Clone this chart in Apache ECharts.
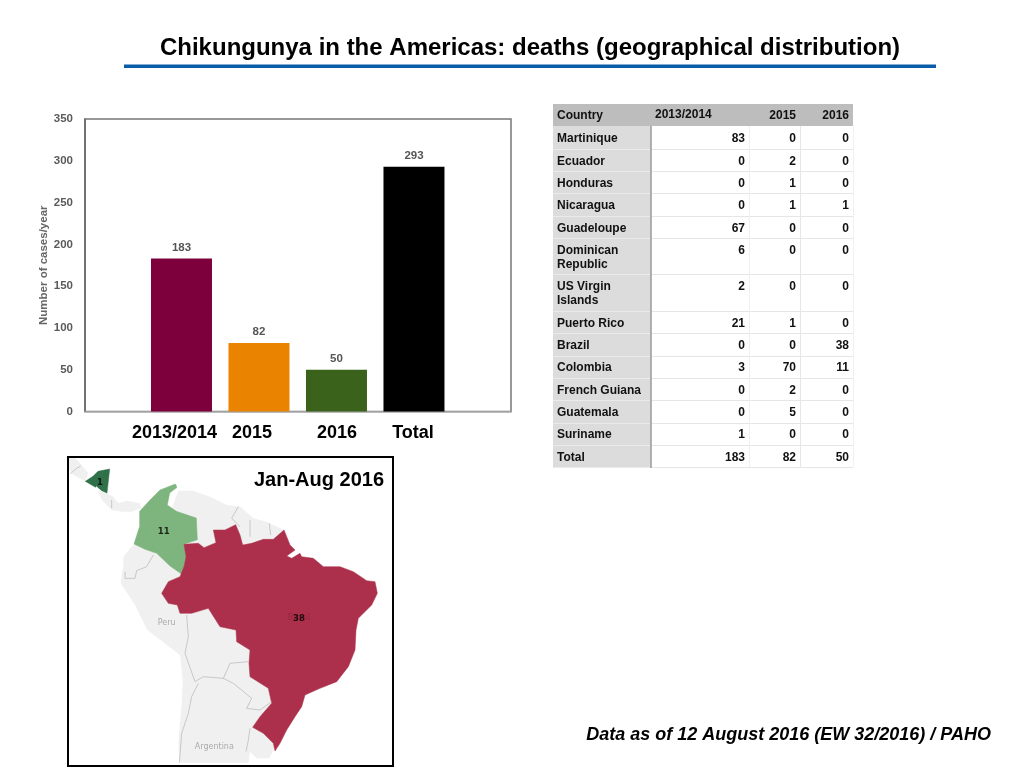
<!DOCTYPE html>
<html>
<head>
<meta charset="utf-8">
<style>html,body{margin:0;padding:0;background:#fff}#c{width:1024px;height:768px}</style>
<script src="https://cdn.jsdelivr.net/npm/echarts@6/dist/echarts.min.js"></script>
</head>
<body>
<div id="c"></div>
<script>
// ---------- chart data ----------
var barCategories = ['2013/2014', '2015', '2016', 'Total'];
var barValues = [183, 82, 50, 293];
var barColors = ['#7d003c', '#e98300', '#3b621b', '#000000'];

var tableHeader = ['Country', '2013/2014', '2015', '2016'];
var tableCountries = ['Martinique', 'Ecuador', 'Honduras', 'Nicaragua', 'Guadeloupe', 'Dominican\nRepublic', 'US Virgin\nIslands', 'Puerto Rico', 'Brazil', 'Colombia', 'French Guiana', 'Guatemala', 'Suriname', 'Total'];
var table2013 = [83, 0, 0, 0, 67, 6, 2, 21, 0, 3, 0, 0, 1, 183];
var table2015 = [0, 2, 1, 1, 0, 0, 0, 1, 0, 70, 2, 5, 0, 82];
var table2016 = [0, 0, 0, 1, 0, 0, 0, 0, 38, 11, 0, 0, 0, 50];

var mapLabels = ['Nicaragua', 'Colombia', 'Brazil'];
var mapValues = [1, 11, 38];

var outlineBrazil = [[372,283],[415,280],[432,293],[468,278],[460,240],[495,240],[527,224],[540,255],[548,285],[575,280],[610,268],[640,268],[672,240],[690,285],[705,300],[680,318],[695,325],[720,310],[725,320],[760,325],[790,350],[840,350],[880,365],[920,392],[945,395],[952,430],[935,465],[895,505],[888,540],[885,600],[865,650],[830,695],[780,715],[735,735],[725,770],[705,800],[680,840],[660,880],[645,903],[640,880],[610,850],[578,832],[600,800],[635,760],[625,715],[570,680],[567,640],[570,600],[530,575],[528,540],[480,530],[445,475],[395,490],[360,490],[352,465],[325,460],[305,430],[325,395],[360,380],[372,350],[378,320]];
var outlineColombia = [[346,102],[351,112],[329,129],[322,165],[349,184],[409,204],[412,269],[372,283],[378,320],[372,352],[370,376],[330,348],[290,310],[255,298],[222,282],[239,229],[239,184],[270,150],[300,120]];
var outlineNicaragua = [[149,57],[141,129],[119,119],[76,94],[99,79],[114,64]];
var outlineLake = [[109,109],[124,122],[118,124],[106,114]];
var outlineSouthLand = [[355,122],[400,122],[450,140],[500,165],[540,170],[580,205],[620,215],[672,240],[700,400],[700,700],[640,900],[628,925],[590,925],[570,905],[566,938],[358,938],[355,880],[365,760],[368,690],[360,615],[262,540],[225,465],[182,400],[190,345],[190,320],[222,282],[239,229],[330,190]];
var outlineHonduras = [[24,24],[45,24],[60,40],[85,70],[76,94],[40,75],[24,55]];
var outlineIsthmus = [[112,118],[138,128],[160,140],[175,160],[200,152],[240,160],[243,175],[215,185],[185,185],[155,180],[125,150]];
var borderLines = [
  [[280,315],[260,350],[230,362],[225,385],[195,385],[195,365]],
  [[380,495],[385,560],[375,610],[405,695]],
  [[415,700],[395,740],[385,790],[365,850],[358,938]],
  [[405,695],[430,680],[490,685],[510,640],[565,635]],
  [[490,685],[520,700],[575,745],[560,775],[600,780],[635,755]],
  [[570,835],[565,870],[558,905]],
  [[535,170],[515,205],[540,230]],
  [[570,210],[570,260]],
  [[628,220],[632,255]],
  [[30,72],[50,55],[62,48]],
  [[155,150],[155,175]]
];
var mapLabelPoints = [[120,97],[311,246],[717,505]];
var placeNames = ['Peru', 'Argentina'];
var placePoints = [[320,520],[463,892]];
var faintName = 'Brasil';

// ---------- helpers ----------
function flip(p) { return [p[0], -p[1]]; }
function feature(name, ring) {
  var r = ring.map(flip); r.push(r[0]);
  return { type: 'Feature', properties: { name: name }, geometry: { type: 'Polygon', coordinates: [r] } };
}
echarts.registerMap('region', {
  type: 'FeatureCollection',
  features: [
    feature('SouthLand', outlineSouthLand),
    feature('Honduras', outlineHonduras),
    feature('Isthmus', outlineIsthmus),
    feature('Colombia', outlineColombia),
    feature('Brazil', outlineBrazil),
    feature('Nicaragua', outlineNicaragua),
    feature('Lake', outlineLake)
  ]
});

// ---------- table graphics ----------
var rowEdges = [126, 149, 171, 193, 216, 238, 274, 311, 333, 356, 378, 400, 423, 445, 467];
var tableFont = 'bold 12px "Liberation Sans", Arial, sans-serif';
var g = [];
function text(x, y, s, font, fill, align) {
  g.push({ type: 'text', x: x, y: y, z: 5, style: { text: s, font: font, fill: fill, align: align || 'left', verticalAlign: 'middle', lineHeight: 14 } });
}
function rect(x, y, w, h, fill) { g.push({ type: 'rect', z: 2, shape: { x: x, y: y, width: w, height: h }, style: { fill: fill } }); }
function line(x1, y1, x2, y2, color, w) { g.push({ type: 'line', z: 3, shape: { x1: x1, y1: y1, x2: x2, y2: y2 }, style: { stroke: color, lineWidth: w } }); }

rect(553, 104, 300, 22, '#bdbdbd');
rect(553, 126, 98, 341, '#dcdcdc');
for (var i = 1; i < rowEdges.length; i++) {
  line(553, rowEdges[i] + 0.5, 651, rowEdges[i] + 0.5, '#eaeaea', 1);
  line(651, rowEdges[i] + 0.5, 853, rowEdges[i] + 0.5, '#e6e6e6', 1);
}
line(651, 126, 651, 468, '#9a9a9a', 1.5);
line(749.5, 126, 749.5, 467, '#f0f0f0', 1);
line(800.5, 126, 800.5, 467, '#e6e6e6', 1);
line(853.5, 126, 853.5, 467, '#f0f0f0', 1);
text(557, 115.5, tableHeader[0], tableFont, '#111');
text(655, 114.5, tableHeader[1], tableFont, '#111');
text(796, 116, tableHeader[2], tableFont, '#111', 'right');
text(849, 116, tableHeader[3], tableFont, '#111', 'right');
var rowTextY = [138.5, 161.5, 183.5, 205.5, 228.5, 250.5, 286.5, 323.5, 345.5, 367.5, 390.5, 412.5, 434.5, 457.5];
tableCountries.forEach(function (name, r) {
  var y = rowTextY[r];
  var two = name.indexOf('\n') >= 0;
  text(557, two ? y + 7 : y, name, tableFont, '#111');
  text(745, y, String(table2013[r]), tableFont, '#111', 'right');
  text(796, y, String(table2015[r]), tableFont, '#111', 'right');
  text(849, y, String(table2016[r]), tableFont, '#111', 'right');
});

// ---------- title, captions, frame ----------
text(530, 48, 'Chikungunya in the Americas: deaths (geographical distribution)', 'bold 24px "Liberation Sans", Arial, sans-serif', '#000', 'center');
g.push({ type: 'rect', z: 3, shape: { x: 124, y: 64.5, width: 812, height: 3.5 }, style: { fill: '#0b5ca8' } });
text(991, 735, 'Data as of 12 August 2016 (EW 32/2016) / PAHO', 'italic bold 18px "Liberation Sans", Arial, sans-serif', '#000', 'right');
var xLabelPos = [174.5, 252, 337, 413];
barCategories.forEach(function (c, i) {
  text(xLabelPos[i], 433.5, c, 'bold 18px "Liberation Sans", Arial, sans-serif', '#000', 'center');
});
g.push({ type: 'rect', z: 20, shape: { x: 68, y: 457, width: 325, height: 309 }, style: { fill: 'none', stroke: '#000', lineWidth: 2 } });
g.push({ type: 'text', x: 319, y: 480.5, z: 21, style: { text: 'Jan-Aug 2016', font: 'bold 20px "Liberation Sans", Arial, sans-serif', fill: '#000', align: 'center', verticalAlign: 'middle' } });

// ---------- chart ----------
var chart = echarts.init(document.getElementById('c'), null, { renderer: 'canvas' });
chart.setOption({
  animation: false,
  backgroundColor: '#fff',
  grid: { left: 85, top: 119, width: 426, height: 292.5, show: true, borderColor: '#777', borderWidth: 1.5, backgroundColor: 'transparent' },
  xAxis: {
    type: 'value', min: -0.245, max: 5.252,
    axisLine: { show: true, onZero: false, lineStyle: { color: '#b0b0b0', width: 1.5 } },
    axisTick: { show: false }, axisLabel: { show: false }, splitLine: { show: false }
  },
  yAxis: {
    type: 'value', min: 0, max: 350, interval: 50,
    name: 'Number of cases/year', nameLocation: 'middle', nameGap: 31,
    nameTextStyle: { color: '#666', fontSize: 11.5, fontWeight: 'bold', fontFamily: '"Liberation Sans", Arial' },
    axisLine: { show: true, onZero: false, lineStyle: { color: '#666', width: 1.5 } },
    axisTick: { show: false },
    axisLabel: { color: '#5a5a5a', fontSize: 11.5, fontWeight: 'bold', fontFamily: '"Liberation Sans", Arial', margin: 12, padding: [3, 0, 0, 0] },
    splitLine: { show: false }
  },
  geo: {
    map: 'region', roam: false, silent: true, aspectScale: 1,
    left: 60, top: 450, width: 340, height: 318,
    boundingCoords: [[0, 0], [1020, -954]],
    label: { show: false },
    itemStyle: { areaColor: '#f0f0f0', borderWidth: 0 },
    emphasis: { disabled: true },
    regions: [
      { name: 'Brazil', itemStyle: { areaColor: '#ac304b', borderColor: '#ac304b', borderWidth: 0.5 } },
      { name: 'Colombia', itemStyle: { areaColor: '#7eb57e', borderColor: '#7eb57e', borderWidth: 0.5 } },
      { name: 'Nicaragua', itemStyle: { areaColor: '#2f7148', borderColor: '#2f7148', borderWidth: 0.5 } },
      { name: 'Lake', itemStyle: { areaColor: '#ffffff', borderWidth: 0 } }
    ]
  },
  series: [
    {
      type: 'bar', barWidth: 61, xAxisIndex: 0, yAxisIndex: 0,
      data: barValues.map(function (v, i) {
        return { value: [i + 1, v], itemStyle: { color: barColors[i] } };
      }),
      label: {
        show: true, position: 'top', distance: 5,
        color: '#555', fontSize: 11.5, fontWeight: 'bold', fontFamily: '"Liberation Sans", Arial',
        formatter: function (p) { return p.value[1]; }
      }
    },
    {
      type: 'lines', coordinateSystem: 'geo', polyline: true, silent: true, z: 3,
      lineStyle: { color: '#bcbcbc', width: 0.8, opacity: 1 },
      data: borderLines.map(function (l) { return { coords: l.map(flip) }; })
    },
    {
      type: 'scatter', coordinateSystem: 'geo', symbolSize: 0, silent: true, z: 4,
      label: { show: true, position: 'inside', color: '#8f2540', fontSize: 8, fontFamily: '"DejaVu Sans"',
        formatter: function (p) { return p.name; } },
      data: [{ name: faintName, value: flip(mapLabelPoints[2]) }]
    },
    {
      type: 'scatter', coordinateSystem: 'geo', symbolSize: 0, silent: true, z: 5,
      label: { show: true, position: 'inside', color: '#000', fontSize: 8.5, fontWeight: 'bold', fontFamily: '"DejaVu Sans"',
        formatter: function (p) { return p.name; } },
      data: mapLabels.map(function (n, i) { return { name: String(mapValues[i]), value: flip(mapLabelPoints[i]) }; })
    },
    {
      type: 'scatter', coordinateSystem: 'geo', symbolSize: 0, silent: true, z: 4,
      label: { show: true, position: 'inside', color: '#999', fontSize: 8, fontFamily: '"DejaVu Sans"',
        formatter: function (p) { return p.name; } },
      data: placeNames.map(function (n, i) { return { name: n, value: flip(placePoints[i]) }; })
    }
  ],
  graphic: g
});
</script>
</body>
</html>
